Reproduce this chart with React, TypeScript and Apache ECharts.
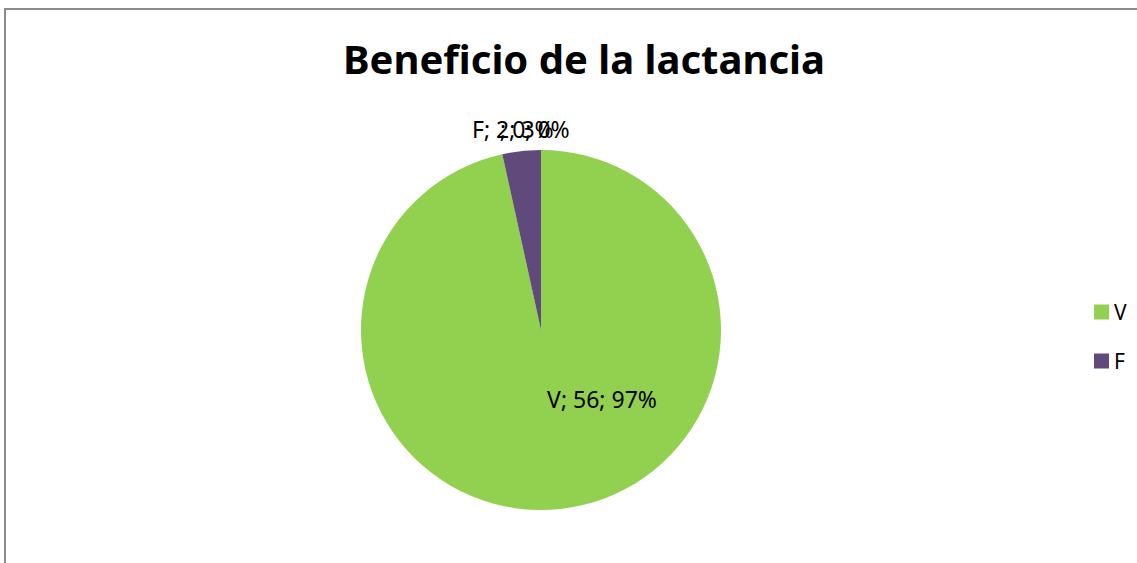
import React, { useEffect, useRef } from "react";
import * as echarts from "echarts";

const title = "Beneficio de la lactancia";
const categories = ["V", "F", ""];
const values = [56, 2, 0];
const legendItems = ["V", "F"];
const colors = ["#92D050", "#604A7B", "#4BACC6"];

export default function App() {
  const ref = useRef<HTMLDivElement>(null);
  useEffect(() => {
    if (!ref.current) return;
    const chart = echarts.init(ref.current, undefined, { renderer: "svg" });
    const total = values.reduce((a, b) => a + b, 0);
    const labelFont = "Noto Sans";
    chart.setOption({
      animation: false,
      backgroundColor: "#fff",
      title: {
        text: title,
        left: 579,
        textAlign: "center",
        top: 33,
        textStyle: { fontSize: 40, fontWeight: "bold", color: "#000", fontFamily: "Noto Sans" },
      },
      legend: {
        data: legendItems,
        orient: "vertical",
        left: 1089,
        top: 296,
        itemWidth: 15,
        itemHeight: 15,
        itemGap: 27,
        icon: "rect",
        textStyle: { fontSize: 21, lineHeight: 22, color: "#000", fontFamily: labelFont },
      },
      graphic: [
        {
          type: "polyline",
          shape: { points: [[5, 563], [5, 9], [1137, 9]] },
          style: { stroke: "#8c8c8c", lineWidth: 2, fill: "none" },
          silent: true,
        },
      ],
      series: [
        {
          type: "pie",
          center: [541, 330],
          radius: 180,
          startAngle: 90,
          clockwise: true,
          avoidLabelOverlap: false,
          stillShowZeroSum: true,
          minShowLabelAngle: 0,
          itemStyle: { borderWidth: 0 },
          label: {
            show: true,
            color: "#000",
            fontSize: 23,
            fontFamily: labelFont,
            formatter: (p: any) => `${p.name}; ${p.value}; ${Math.round((p.value / total) * 100)}%`,
          },
          labelLine: { show: false },
          labelLayout: (p: any) => {
            if (p.dataIndex === 0) return { x: 602, y: 399, align: "center", verticalAlign: "middle" };
            if (p.dataIndex === 1) return { x: 472, y: 129, align: "left", verticalAlign: "middle" };
            return { x: 500, y: 129, align: "left", verticalAlign: "middle" };
          },
          data: categories.map((c, i) => ({
            name: c,
            value: values[i],
            itemStyle: { color: colors[i] },
            label: { position: i === 0 ? "inside" : "outside" },
          })),
        },
      ],
    });
    return () => chart.dispose();
  }, []);
  return (
    <div
      ref={ref}
      style={{ position: "absolute", left: 0, top: 0, width: 1137, height: 563 }}
    />
  );
}
